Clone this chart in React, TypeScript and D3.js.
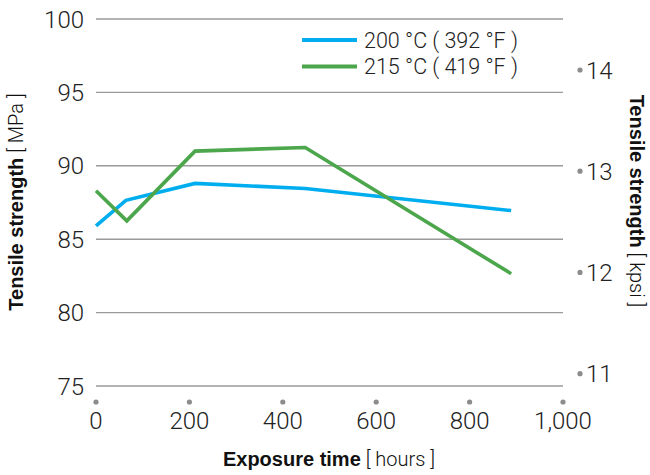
import React from "react";
import * as d3 from "d3";

const seriesNames = ["200 °C ( 392 °F )", "215 °C ( 419 °F )"];
const seriesColors = ["#00aeef", "#4ca64c"];
const hours200 = [0, 64, 212, 448, 889];
const mpa200 = [85.9, 87.65, 88.8, 88.45, 86.95];
const hours215 = [0, 66, 212, 448, 889];
const mpa215 = [88.3, 86.25, 91.0, 91.25, 82.65];
const xTicks = [0, 200, 400, 600, 800, 1000];
const yTicks = [75, 80, 85, 90, 95, 100];
const kpsiTicks = [11, 12, 13, 14];
const MPA_PER_KPSI = 6.894757;

const W = 650;
const H = 475;
const LIGHT = "Roboto, 'Liberation Sans', Arial, sans-serif";
const BOLD = "'Liberation Sans', Arial, sans-serif";

export default function App() {
  const x = d3.scaleLinear().domain([0, 1000]).range([96, 563]);
  const y = d3.scaleLinear().domain([75, 100]).range([386, 19]);
  const line = d3
    .line<[number, number]>()
    .x((d) => x(d[0]))
    .y((d) => y(d[1]));
  const series = [
    hours200.map((h, i) => [h, mpa200[i]] as [number, number]),
    hours215.map((h, i) => [h, mpa215[i]] as [number, number]),
  ];
  const fmt = d3.format(",");
  return (
    <svg
      width={W}
      height={H}
      style={{ position: "absolute", left: 0, top: 0 }}
      fontFamily={LIGHT}
    >
      <rect width={W} height={H} fill="#fff" />
      {yTicks.map((t) => (
        <g key={t}>
          <line x1={96} x2={563} y1={y(t)} y2={y(t)} stroke="#9a9a9a" strokeWidth={1.4} />
          <text x={84} y={y(t)} dy="0.36em" textAnchor="end" fontSize={24} fontWeight={300} fill="#222">
            {t}
          </text>
        </g>
      ))}
      {xTicks.map((t) => (
        <g key={t}>
          <circle cx={x(t)} cy={402} r={2.6} fill="#8c8c8c" />
          <text x={x(t)} y={429} textAnchor="middle" fontSize={24} fontWeight={300} fill="#222">
            {fmt(t)}
          </text>
        </g>
      ))}
      {kpsiTicks.map((t) => (
        <g key={t}>
          <circle cx={580} cy={y(t * MPA_PER_KPSI)} r={2.6} fill="#8c8c8c" />
          <text x={586} y={y(t * MPA_PER_KPSI)} dy="0.36em" fontSize={24} fontWeight={300} fill="#222">
            {t}
          </text>
        </g>
      ))}
      {series.map((s, i) => (
        <path key={i} d={line(s) || ""} fill="none" stroke={seriesColors[i]} strokeWidth={3.6} strokeLinejoin="miter" />
      ))}
      {seriesNames.map((n, i) => (
        <g key={n}>
          <line x1={302} x2={357} y1={40 + i * 26.5} y2={40 + i * 26.5} stroke={seriesColors[i]} strokeWidth={4} />
          <text x={364} y={40 + i * 26.5} dy="0.36em" fontSize={21.5} fontWeight={300} fill="#222">
            {n}
          </text>
        </g>
      ))}
      <text transform="translate(23,202) rotate(-90)" textAnchor="middle" fontSize={20} fill="#111">
        <tspan fontFamily={BOLD} fontWeight={700}>Tensile strength</tspan>
        <tspan fontWeight={300}> [ MPa ]</tspan>
      </text>
      <text transform="translate(630,201) rotate(90)" textAnchor="middle" fontSize={20} fill="#111">
        <tspan fontFamily={BOLD} fontWeight={700}>Tensile strength</tspan>
        <tspan fontWeight={300}> [ kpsi ]</tspan>
      </text>
      <text x={329} y={466} textAnchor="middle" fontSize={20} fill="#111">
        <tspan fontFamily={BOLD} fontWeight={700}>Exposure time</tspan>
        <tspan fontWeight={300}> [ hours ]</tspan>
      </text>
    </svg>
  );
}
